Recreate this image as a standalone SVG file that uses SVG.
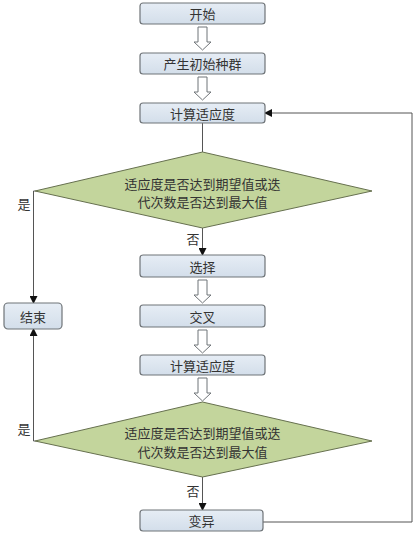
<svg xmlns="http://www.w3.org/2000/svg" width="416" height="535" viewBox="0 0 416 535">
<defs>
<linearGradient id="bg" x1="0" y1="0" x2="0" y2="1">
<stop offset="0" stop-color="#e6edf5"/>
<stop offset="1" stop-color="#d3deea"/>
</linearGradient>
<marker id="ah" markerWidth="8" markerHeight="8" refX="7" refY="4" orient="auto" markerUnits="userSpaceOnUse">
<path d="M0,0 L8,4 L0,8 Z" fill="#111"/>
</marker>
<path id="blk" d="M-4.5,0 L4.5,0 L4.5,15 L8.5,15 L0,23 L-8.5,15 L-4.5,15 Z"/>
</defs>
<style>
.box{fill:url(#bg);stroke:#6f7478;stroke-width:1.2}
.dia{fill:#c3d59c;stroke:#66704f;stroke-width:1}
.t{font-family:"Noto Sans CJK SC",sans-serif;font-size:13px;fill:#333;text-anchor:middle;dominant-baseline:central}
.ln{fill:none;stroke:#555;stroke-width:1}
.ba{fill:#fff;stroke:#6f7478;stroke-width:1}
</style>
<rect width="416" height="535" fill="#fff"/>
<g id="connectors">
<use href="#blk" class="ba" x="202.5" y="27"/>
<use href="#blk" class="ba" x="202.5" y="77"/>
<use href="#blk" class="ba" x="202.5" y="280"/>
<use href="#blk" class="ba" x="202.5" y="330"/>
<use href="#blk" class="ba" x="202.5" y="378"/>
<path class="ln" d="M202.5,123 L202.5,152"/>
<path class="ln" d="M202.5,228 L202.5,255" marker-end="url(#ah)"/>
<path class="ln" d="M202.5,477 L202.5,510" marker-end="url(#ah)"/>
<path class="ln" d="M35,191 L33.5,191 L33.5,303" marker-end="url(#ah)"/>
<path class="ln" d="M35,441 L33.5,441 L33.5,329" marker-end="url(#ah)"/>
<path class="ln" d="M263,522 L412,522 L412,113 L265,113" stroke="#777" marker-end="url(#ah)"/>
<text class="t" x="24" y="203">是</text>
<text class="t" x="24" y="428">是</text>
<text class="t" x="193" y="238">否</text>
<text class="t" x="193" y="490">否</text>
</g>
<g id="start"><rect class="box" x="140" y="3" width="125" height="21" rx="3"/><text class="t" x="202.5" y="13.5">开始</text></g>
<g id="init"><rect class="box" x="140" y="53" width="125" height="21" rx="3"/><text class="t" x="202.5" y="63.5">产生初始种群</text></g>
<g id="fit1"><rect class="box" x="140" y="103" width="125" height="20" rx="3"/><text class="t" x="202.5" y="113">计算适应度</text></g>
<g id="dec1"><polygon class="dia" points="202.5,152 372,191 202.5,228 35,191"/><text class="t" x="202.5" y="183">适应度是否达到期望值或迭</text><text class="t" x="202.5" y="201">代次数是否达到最大值</text></g>
<g id="select"><rect class="box" x="140" y="255" width="125" height="22" rx="3"/><text class="t" x="202.5" y="266">选择</text></g>
<g id="cross"><rect class="box" x="140" y="305" width="125" height="22" rx="3"/><text class="t" x="202.5" y="316">交叉</text></g>
<g id="fit2"><rect class="box" x="140" y="355" width="125" height="20" rx="3"/><text class="t" x="202.5" y="365">计算适应度</text></g>
<g id="dec2"><polygon class="dia" points="202.5,402 372,441 202.5,477 35,441"/><text class="t" x="202.5" y="432">适应度是否达到期望值或迭</text><text class="t" x="202.5" y="451">代次数是否达到最大值</text></g>
<g id="mutate"><rect class="box" x="140" y="510" width="123" height="21" rx="3"/><text class="t" x="201.5" y="520.5">变异</text></g>
<g id="end"><rect class="box" x="4" y="303" width="58" height="26" rx="4"/><text class="t" x="33" y="316">结束</text></g>
</svg>
